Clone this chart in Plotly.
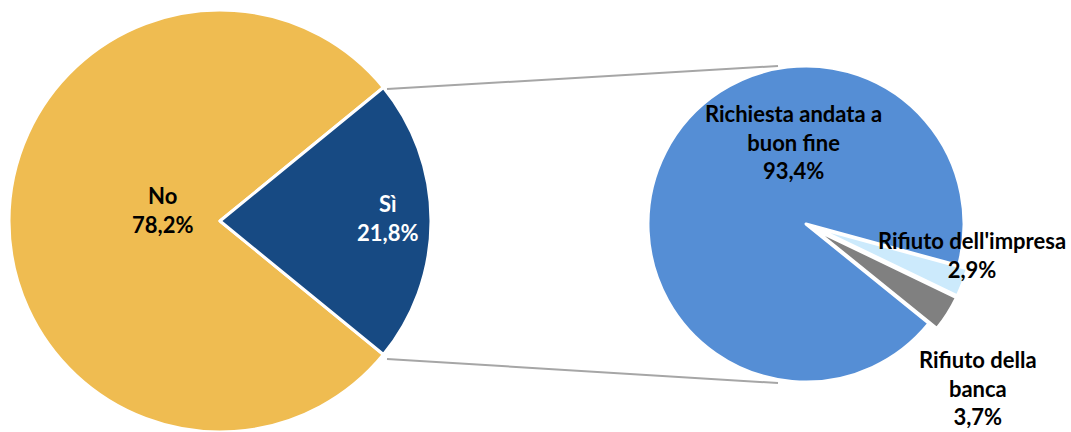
import plotly.graph_objects as go

main_labels = ["No", "Sì"]
main_values = [78.2, 21.8]
main_colors = ["#EFBC51", "#174A83"]

sub_labels = ["Richiesta andata a<br>buon fine", "Rifiuto dell'impresa", "Rifiuto della<br>banca"]
sub_values = [93.4, 2.9, 3.7]
sub_colors = ["#558ED5", "#CCEAFC", "#808080"]
sub_pull = [0, 0.06, 0.06]

W, H = 1071, 432

def px(x):
    return x / W

def py(y):
    return 1 - y / H

fig = go.Figure()
fig.add_trace(go.Pie(
    labels=main_labels, values=main_values, sort=False, direction="clockwise",
    rotation=129.24, marker=dict(colors=main_colors, line=dict(color="white", width=3)),
    textinfo="none", hoverinfo="label+percent",
    domain=dict(x=[px(9), px(431)], y=[py(432), py(10)]),
    showlegend=False,
))
fig.add_trace(go.Pie(
    labels=sub_labels, values=sub_values, sort=False, direction="clockwise",
    rotation=129, pull=sub_pull,
    marker=dict(colors=sub_colors, line=dict(color="white", width=3)),
    textinfo="none", hoverinfo="label+percent",
    domain=dict(x=[px(638.5), px(973.5)], y=[py(391.5), py(56.5)]),
    showlegend=False,
))

def fmt(v):
    return f"{v:.1f}".replace(".", ",") + "%"

font_family = "Lato"
font_size = 22
ann_pos_main = [(163, 210), (387, 218)]
ann_col_main = ["black", "white"]
ann_pos_sub = [(793, 142), (972, 255), (978, 388)]

annotations = []
for (x, y), lab, val, col in zip(ann_pos_main, main_labels, main_values, ann_col_main):
    annotations.append(dict(x=px(x), y=py(y), xref="paper", yref="paper",
                            text=f"<b>{lab}<br>{fmt(val)}</b>", showarrow=False,
                            font=dict(family=font_family, size=font_size, color=col),
                            xanchor="center", yanchor="middle", align="center"))
for (x, y), lab, val in zip(ann_pos_sub, sub_labels, sub_values):
    annotations.append(dict(x=px(x), y=py(y), xref="paper", yref="paper",
                            text=f"<b>{lab}<br>{fmt(val)}</b>", showarrow=False,
                            font=dict(family=font_family, size=font_size, color="black"),
                            xanchor="center", yanchor="middle", align="center"))

shapes = [
    dict(type="line", xref="paper", yref="paper", x0=px(387), y0=py(89), x1=px(778), y1=py(66),
         line=dict(color="#A6A6A6", width=2)),
    dict(type="line", xref="paper", yref="paper", x0=px(387), y0=py(359), x1=px(778), y1=py(383),
         line=dict(color="#A6A6A6", width=2)),
]

fig.update_layout(
    width=W, height=H, margin=dict(l=0, r=0, t=0, b=0),
    paper_bgcolor="white", plot_bgcolor="white",
    annotations=annotations, shapes=shapes,
)
fig.write_html("out.html")
